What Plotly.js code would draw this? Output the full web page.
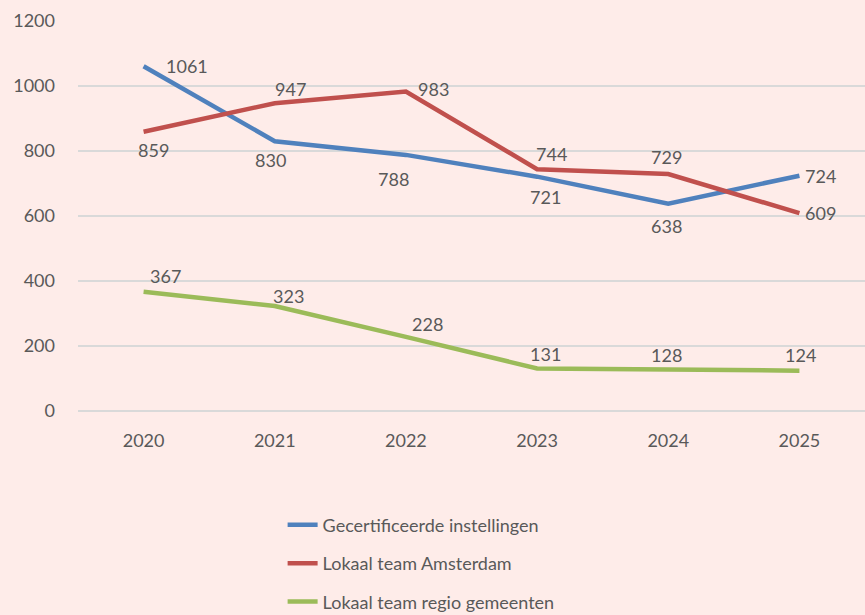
<!DOCTYPE html>
<html>
<head>
<meta charset="utf-8">
<script src="https://cdn.plot.ly/plotly-3.0.1.min.js"></script>
<style>
  html, body { margin: 0; padding: 0; background: #FEECE9; }
  #chart { width: 865px; height: 615px; }
</style>
</head>
<body>
<div id="chart"></div>
<script>
// jaren en waarden
const years = ['2020', '2021', '2022', '2023', '2024', '2025'];
const gecertificeerd = [1061, 830, 788, 721, 638, 724];
const amsterdam = [859, 947, 983, 744, 729, 609];
const regio = [367, 323, 228, 131, 128, 124];

const names = ['Gecertificeerde instellingen', 'Lokaal team Amsterdam', 'Lokaal team regio gemeenten'];
const colors = ['#4F81BD', '#C0504D', '#9BBB59'];

// verschuiving van de labels t.o.v. het punt (px)
const shiftBlue = [[43, 0], [-4, -19], [-12, -24], [8, -20], [-2, -22], [21, 0]];
const shiftRed = [[10, -18], [16, 14], [28, 3], [14, 15], [-2, 17], [21, 0]];
const shiftGreen = [[22, 16], [14, 10], [22, 13], [8, 14], [-2, 14], [1, 16]];

const textColor = '#595959';
const font = { family: 'Lato, "Open Sans", sans-serif', size: 18, color: textColor };

const series = [gecertificeerd, amsterdam, regio];
const shifts = [shiftBlue, shiftRed, shiftGreen];

const traces = series.map((vals, i) => ({
    x: years, y: vals,
    type: 'scatter',
    mode: 'lines',
    name: names[i],
    legendgroup: 'g' + i,
    line: { color: colors[i], width: 4.5 },
    hoverinfo: 'skip'
}));

// datalabels als annotaties (categorie-as: x is de index)
const annotations = [];
series.forEach((vals, i) => {
    vals.forEach((v, j) => {
        annotations.push({
            x: j, y: v, xref: 'x', yref: 'y',
            text: String(v),
            showarrow: false,
            xshift: shifts[i][j][0],
            yshift: shifts[i][j][1],
            font: Object.assign({}, font)
        });
    });
});

const layout = {
    width: 865, height: 615,
    paper_bgcolor: '#FEECE9', plot_bgcolor: '#FEECE9',
    margin: { l: 78, r: 0, t: 21, b: 204, autoexpand: false },
    font: font,
    xaxis: {
        type: 'category',
        range: [-0.5, 5.5],
        showgrid: false, zeroline: false, showline: false,
        tickfont: font,
        ticklabelstandoff: 17
    },
    yaxis: {
        range: [0, 1200],
        dtick: 200,
        showgrid: true, gridcolor: '#D9D9D9', gridwidth: 1.3,
        zeroline: true, zerolinecolor: '#D9D9D9', zerolinewidth: 1.3,
        showline: false,
        tickfont: font,
        ticklabelstandoff: 22
    },
    annotations: annotations,
    showlegend: true,
    legend: {
        x: 0.26, xanchor: 'left',
        y: -0.245, yanchor: 'top',
        orientation: 'v',
        traceorder: 'grouped',
        tracegroupgap: 12,
        font: font,
        bgcolor: 'rgba(0,0,0,0)'
    }
};

Plotly.newPlot('chart', traces, layout, { displayModeBar: false, staticPlot: true });
</script>
</body>
</html>
